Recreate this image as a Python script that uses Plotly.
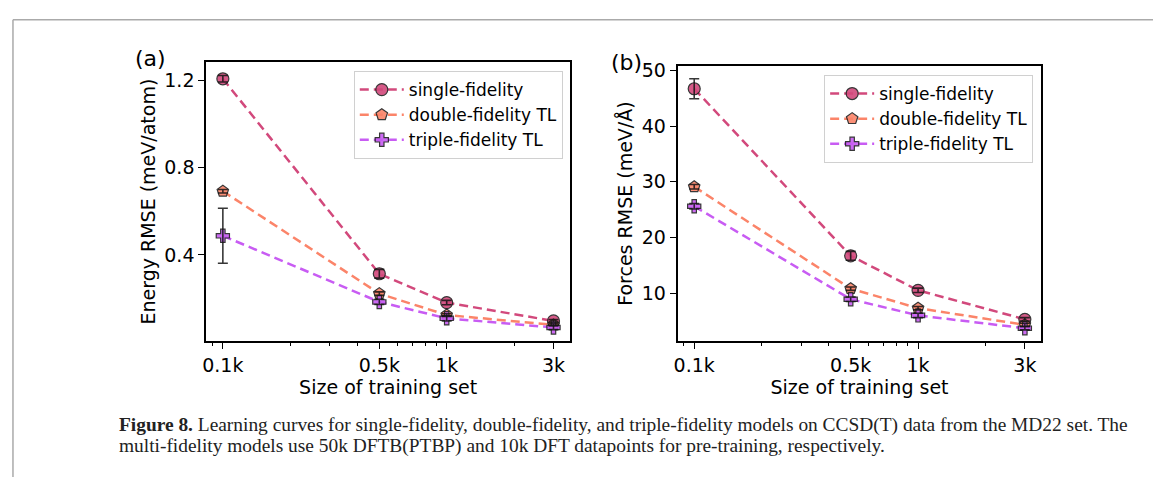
import plotly.graph_objects as go

# ---------------- data ----------------
train_sizes = [100, 500, 1000, 3000]
tick_vals = [100, 500, 1000, 3000]
tick_text = ["0.1k", "0.5k", "1k", "3k"]
minor_vals = [90, 200, 300, 400, 500, 600, 700, 800, 900, 2000, 3000]

series_names = ["single-fidelity", "double-fidelity TL", "triple-fidelity TL"]

energy_single = [1.207, 0.314, 0.182, 0.098]
energy_single_err = [0.015, 0.02, 0.01, 0.006]
energy_double = [0.692, 0.223, 0.125, 0.080]
energy_double_err = [0.008, 0.008, 0.006, 0.005]
energy_triple = [0.488, 0.185, 0.110, 0.068]
energy_triple_err = [0.126, 0.012, 0.012, 0.010]

forces_single = [46.7, 16.7, 10.5, 5.3]
forces_single_err = [1.8, 0.8, 0.4, 0.3]
forces_double = [29.1, 10.8, 7.3, 4.3]
forces_double_err = [0.4, 0.3, 0.3, 0.3]
forces_triple = [25.6, 8.9, 6.0, 3.7]
forces_triple_err = [0.5, 0.4, 0.4, 0.3]

colors = ["#d2497c", "#fb8469", "#c85cf3"]
symbols = ["circle", "pentagon", "cross"]
sizes = [12, 12, 11]

W, H = 1153, 477

fig = go.Figure()

def add_series(xaxis, yaxis, legend, values, errs):
    for name, vals, col, sym, sz in zip(series_names, values, colors, symbols, sizes):
        fig.add_trace(go.Scatter(
            x=train_sizes, y=vals, name=name, mode="lines+markers",
            xaxis=xaxis, yaxis=yaxis, legend=legend,
            line=dict(color=col, width=2.5, dash="9px,5px"),
            marker=dict(symbol=sym, size=sz, color=col, opacity=0.9,
                        line=dict(color="#222222", width=1.2)),
        ))
    # error bars drawn on top of the markers (as in the original)
    for vals, err in zip(values, errs):
        fig.add_trace(go.Scatter(
            x=train_sizes, y=vals, mode="markers", showlegend=False, hoverinfo="skip",
            xaxis=xaxis, yaxis=yaxis, legend=legend,
            marker=dict(size=1, opacity=0),
            error_y=dict(type="data", array=err, visible=True,
                         color="rgba(20,20,20,0.85)", thickness=1.6, width=5),
        ))

add_series("x", "y", "legend",
           [energy_single, energy_double, energy_triple],
           [energy_single_err, energy_double_err, energy_triple_err])
add_series("x2", "y2", "legend2",
           [forces_single, forces_double, forces_triple],
           [forces_single_err, forces_double_err, forces_triple_err])

tickfont = dict(family="DejaVu Sans", size=19, color="black")

def xaxis_cfg(domain, anchor):
    return dict(domain=domain, anchor=anchor, type="log", range=[1.926, 3.551],
                tickmode="array", tickvals=tick_vals, ticktext=tick_text,
                ticks="outside", ticklen=6, tickwidth=1.2, tickcolor="black",
                minor=dict(tickmode="array", tickvals=minor_vals, ticks="outside",
                           ticklen=3, tickwidth=1, tickcolor="black", showgrid=False),
                showline=True, mirror=True, linecolor="black", linewidth=2,
                showgrid=False, zeroline=False, tickfont=tickfont,
                title=dict(text="Size of training set", font=tickfont, standoff=4))

def yaxis_cfg(domain, anchor, rng, tv, title):
    return dict(domain=domain, anchor=anchor, range=rng, tickmode="array",
                tickvals=tv, ticktext=[str(v) for v in tv],
                ticks="outside", ticklen=6, tickwidth=1.2, tickcolor="black",
                showline=True, mirror=True, linecolor="black", linewidth=2,
                showgrid=False, zeroline=False, tickfont=tickfont,
                title=dict(text=title, font=tickfont, standoff=4))

legend_common = dict(xanchor="left", yanchor="top",
                     bgcolor="rgba(255,255,255,0.85)", bordercolor="#d0d0d0", borderwidth=1,
                     font=dict(family="DejaVu Sans", size=17, color="black"),
                     tracegroupgap=0, itemwidth=44)

fig.update_layout(
    width=W, height=H, margin=dict(l=0, r=0, t=0, b=0),
    paper_bgcolor="white", plot_bgcolor="white",
    xaxis=xaxis_cfg([203 / W, 568 / W], "y"),
    yaxis=yaxis_cfg([1 - 339 / H, 1 - 56 / H], "x", [0.006, 1.283], [0.4, 0.8, 1.2],
                    "Energy RMSE (meV/atom)"),
    xaxis2=xaxis_cfg([676 / W, 1041 / W], "y2"),
    yaxis2=yaxis_cfg([1 - 339 / H, 1 - 60 / H], "x2", [1.4, 50.76], [10, 20, 30, 40, 50],
                     "Forces RMSE (meV/Å)"),
    legend=dict(x=351 / W, y=1 - 65 / H, **legend_common),
    legend2=dict(x=823 / W, y=1 - 69 / H, **legend_common),
    showlegend=True,
)

# panel labels
fig.add_annotation(text="(a)", x=147 / W, y=1 - 52 / H, xref="paper", yref="paper",
                   xanchor="center", yanchor="middle",
                   showarrow=False, font=dict(family="DejaVu Sans", size=22, color="black"))
fig.add_annotation(text="(b)", x=625 / W, y=1 - 56 / H, xref="paper", yref="paper",
                   xanchor="center", yanchor="middle",
                   showarrow=False, font=dict(family="DejaVu Sans", size=22, color="black"))

# caption
cap_font = dict(family="Liberation Serif", size=19.4, color="#222222")
fig.add_annotation(
    text="<b>Figure 8.</b> Learning curves for single-fidelity, double-fidelity, and triple-fidelity models on CCSD(T) data from the MD22 set. The",
    x=113 / W, y=1 - 424 / H, xref="paper", yref="paper", xanchor="left", yanchor="middle",
    showarrow=False, font=cap_font)
fig.add_annotation(
    text="multi-fidelity models use 50k DFTB(PTBP) and 10k DFT datapoints for pre-training, respectively.",
    x=113 / W, y=1 - 446 / H, xref="paper", yref="paper", xanchor="left", yanchor="middle",
    showarrow=False, font=cap_font)

# page frame lines
fig.add_shape(type="line", xref="paper", yref="paper", x0=9 / W, x1=1, y0=1 - 13 / H, y1=1 - 13 / H,
              line=dict(color="#aaaaaa", width=1.5))
fig.add_shape(type="line", xref="paper", yref="paper", x0=9 / W, x1=9 / W, y0=0, y1=1 - 13 / H,
              line=dict(color="#aaaaaa", width=1.5))

fig.write_html("out.html",
               config={"displayModeBar": False},
               post_script="document.body.style.margin='0';document.body.style.overflow='hidden';")
